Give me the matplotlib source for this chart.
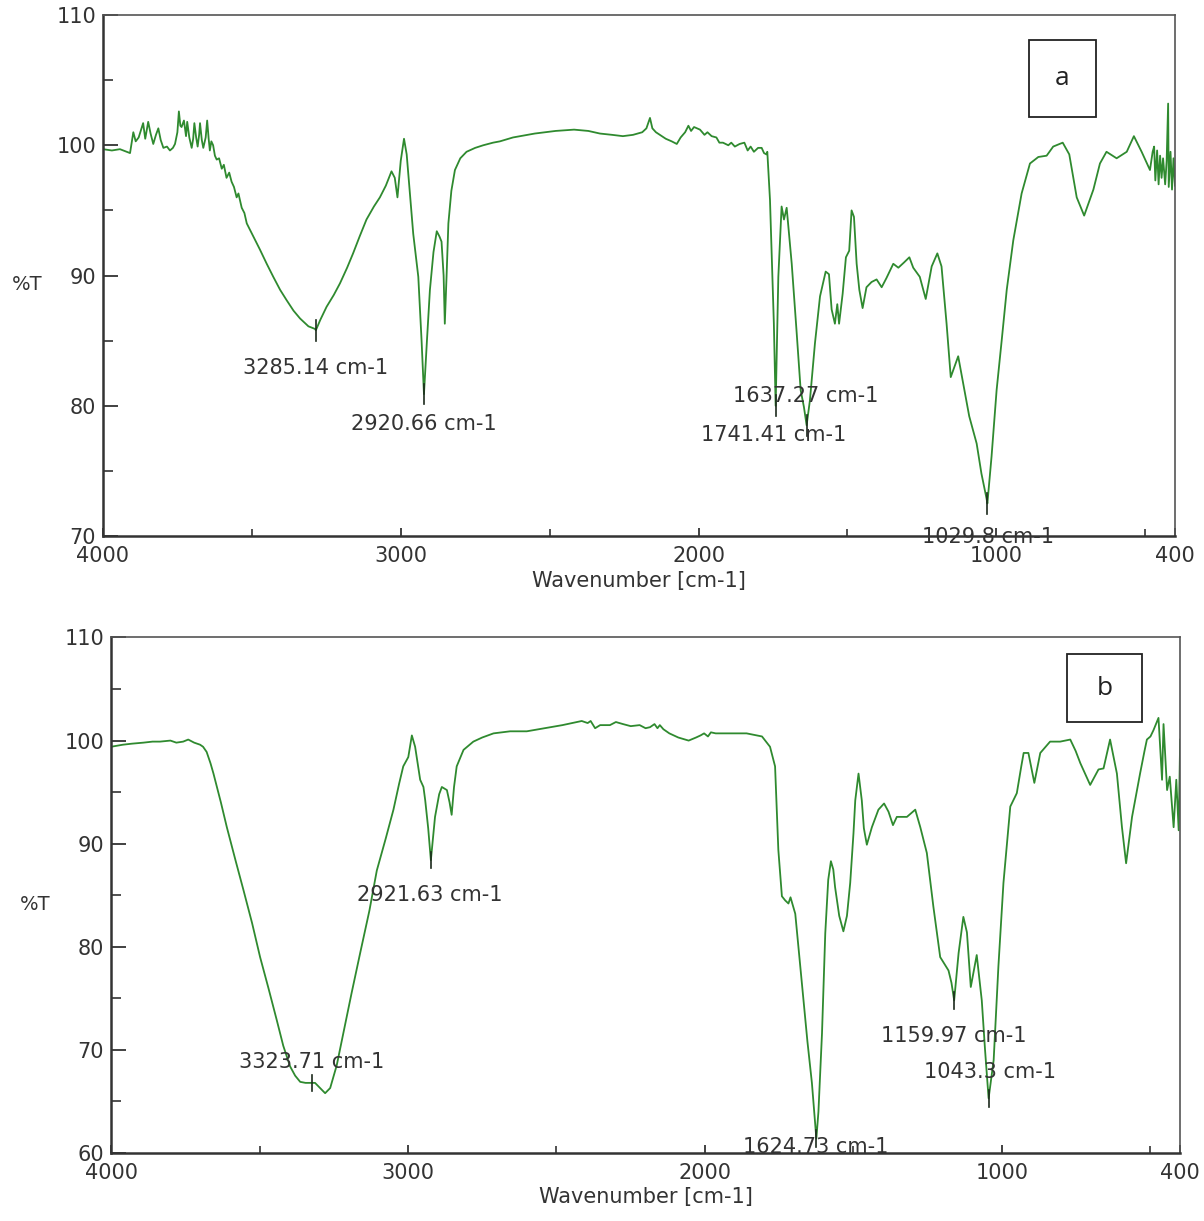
import numpy as np
import matplotlib.pyplot as plt
from matplotlib.patches import Rectangle
from matplotlib.ticker import MultipleLocator, FixedLocator

# ---- spectrum a ----
wn_a = [4000, 3970, 3943, 3920, 3909, 3898, 3890, 3880, 3865, 3858, 3848, 3840, 3831, 3822,
        3814, 3806, 3797, 3785, 3775, 3765, 3758, 3750, 3745, 3740, 3736, 3728, 3721, 3717,
        3710, 3702, 3697, 3693, 3687, 3682, 3677, 3674, 3668, 3663, 3655, 3650, 3645, 3641,
        3636, 3630, 3624, 3618, 3610, 3601, 3594, 3585, 3576, 3568, 3560, 3551, 3545, 3534,
        3525, 3517, 3495, 3473, 3450, 3428, 3405, 3383, 3360, 3338, 3310, 3288, 3285, 3270,
        3249, 3225, 3204, 3180, 3160, 3138, 3115, 3090, 3070, 3050, 3031, 3020, 3011, 3000,
        2989, 2980, 2970, 2958, 2941, 2930, 2922, 2912, 2902, 2890, 2879, 2870, 2863, 2856,
        2852, 2846, 2840, 2830, 2818, 2800, 2779, 2750, 2723, 2690, 2667, 2623, 2550, 2480,
        2418, 2370, 2331, 2290, 2254, 2220, 2189, 2175, 2163, 2155, 2143, 2110, 2090, 2073,
        2060, 2045, 2034, 2025, 2015, 1995, 1980, 1970, 1956, 1940, 1930, 1918, 1900, 1890,
        1878, 1862, 1846, 1835, 1825, 1814, 1800, 1788, 1780, 1772, 1769, 1760, 1747, 1741,
        1732, 1721, 1713, 1704, 1687, 1671, 1657, 1646, 1637, 1626, 1609, 1592, 1573, 1562,
        1553, 1542, 1534, 1528, 1516, 1505, 1494, 1486, 1478, 1469, 1460, 1449, 1436, 1419,
        1402, 1385, 1369, 1346, 1329, 1310, 1292, 1279, 1257, 1237, 1217, 1198, 1184, 1167,
        1153, 1128, 1111, 1091, 1066, 1050, 1033, 1030, 1016, 999, 982, 965, 943, 915, 887,
        859, 831, 809, 777, 755, 730, 705, 674, 652, 630, 596, 562, 538, 512, 484, 475, 470,
        466, 460, 455, 450, 445, 440, 433, 428, 423, 421, 415, 410, 405, 400]
t_a = [99.7, 99.6, 99.7, 99.5, 99.4, 101.0, 100.3, 100.6, 101.7, 100.5, 101.8, 100.9, 100.1, 100.8,
       101.3, 100.4, 99.8, 99.9, 99.6, 99.8, 100.1, 101.0, 102.6, 101.5, 101.4, 101.9, 100.7, 101.8,
       100.6, 99.8, 100.5, 101.7, 100.6, 99.9, 100.8, 101.7, 100.4, 99.8, 100.6, 101.9, 100.5, 99.6,
       100.3, 100.0, 99.2, 98.9, 99.0, 98.2, 98.5, 97.5, 97.9, 97.2, 96.8, 96.0, 96.3, 95.2,
       94.8, 94.0, 93.0, 92.0, 90.9, 89.9, 88.9, 88.1, 87.3, 86.7, 86.1, 85.9, 85.8, 86.6,
       87.6, 88.5, 89.4, 90.6, 91.7, 93.0, 94.3, 95.3, 96.0, 96.9, 98.0, 97.5, 96.0, 98.8,
       100.5, 99.3, 96.5, 93.2, 89.9, 85.0, 80.9, 85.0, 88.9, 91.8, 93.4, 93.0, 92.6, 90.0,
       86.3, 90.0, 94.0, 96.5, 98.1, 99.0, 99.5, 99.8, 100.0, 100.2, 100.3, 100.6, 100.9, 101.1,
       101.2, 101.1, 100.9, 100.8, 100.7, 100.8, 101.0, 101.3, 102.1, 101.3, 101.0, 100.5, 100.3, 100.1,
       100.6, 101.0, 101.5, 101.1, 101.4, 101.2, 100.8, 101.0, 100.7, 100.6, 100.2, 100.2, 100.0, 100.2,
       99.9, 100.1, 100.2, 99.6, 99.9, 99.5, 99.8, 99.8, 99.4, 99.3, 99.5, 95.8, 86.3, 80.0,
       89.9, 95.3, 94.3, 95.2, 90.9, 85.8, 81.2, 79.9, 78.5, 80.4, 84.8, 88.4, 90.3, 90.1,
       87.4, 86.3, 87.8, 86.3, 88.6, 91.4, 91.9, 95.0, 94.5, 90.9, 88.9, 87.5, 89.1, 89.5,
       89.7, 89.1, 89.8, 90.9, 90.6, 91.0, 91.4, 90.6, 89.9, 88.2, 90.7, 91.7, 90.7, 86.3,
       82.2, 83.8, 81.7, 79.2, 77.1, 74.8, 72.9, 72.5, 76.1, 81.2, 85.0, 88.9, 92.7, 96.3, 98.6,
       99.1, 99.2, 99.9, 100.2, 99.3, 96.0, 94.6, 96.6, 98.6, 99.5, 99.0, 99.5, 100.7, 99.5, 98.1, 99.5, 99.9,
       97.3, 99.6, 97.0, 99.2, 97.5, 99.0, 97.0, 98.8, 103.2, 96.8, 99.5, 96.6, 99.0, 96.9]

# ---- spectrum b ----
wn_b = [4000, 3960, 3930, 3891, 3860, 3835, 3800, 3780, 3757, 3740, 3720, 3700, 3690, 3678,
        3665, 3655, 3630, 3610, 3580, 3554, 3525, 3498, 3470, 3442, 3420, 3397, 3380, 3363,
        3345, 3324, 3313, 3296, 3279, 3262, 3240, 3218, 3190, 3161, 3130, 3105, 3075, 3049,
        3030, 3016, 2999, 2987, 2976, 2959, 2948, 2942, 2932, 2923, 2916, 2909, 2895, 2886,
        2869, 2860, 2853, 2845, 2836, 2813, 2780, 2750, 2712, 2656, 2600, 2540, 2480, 2415,
        2395, 2385, 2370, 2353, 2320, 2300, 2276, 2250, 2220, 2200, 2185, 2170, 2160, 2152,
        2140, 2120, 2090, 2055, 2030, 2015, 2003, 1990, 1980, 1964, 1920, 1860, 1808, 1781,
        1764, 1753, 1741, 1730, 1719, 1712, 1704, 1696, 1682, 1668, 1655, 1640, 1625, 1618,
        1606, 1595, 1585, 1576, 1568, 1562, 1548, 1534, 1522, 1511, 1500, 1494, 1483, 1472,
        1465, 1455, 1438, 1416, 1397, 1382, 1367, 1354, 1320, 1292, 1275, 1253, 1231, 1208,
        1180, 1170, 1161, 1146, 1130, 1118, 1105, 1096, 1085, 1068, 1057, 1045, 1028, 1012,
        995, 972, 950, 935, 927, 911, 891, 871, 838, 804, 770, 752, 736, 703, 675, 658, 636,
        613, 596, 582, 562, 535, 520, 512, 500, 490, 473, 461, 456, 444, 435, 422, 413, 405, 400]
t_b = [99.4, 99.6, 99.7, 99.8, 99.9, 99.9, 100.0, 99.8, 99.9, 100.1, 99.8, 99.6, 99.4, 98.9,
       97.8, 96.8, 94.0, 91.6, 88.3, 85.5, 82.3, 79.0, 76.0, 72.9, 70.4, 68.4, 67.5, 66.9,
       66.8, 66.8, 66.8, 66.3, 65.8, 66.3, 68.5, 71.6, 75.5, 79.4, 83.5, 87.4, 90.5, 93.3,
       95.8, 97.5, 98.4, 100.5, 99.4, 96.2, 95.5, 94.2, 91.5, 88.4, 90.5, 92.6, 94.8, 95.5,
       95.2, 94.0, 92.8, 95.5, 97.5, 99.1, 99.9, 100.3, 100.7, 100.9, 100.9, 101.2, 101.5, 101.9,
       101.7, 101.9, 101.2, 101.5, 101.5, 101.8, 101.6, 101.4, 101.5, 101.2, 101.3, 101.6, 101.2, 101.5,
       101.1, 100.7, 100.3, 100.0, 100.3, 100.5, 100.7, 100.4, 100.8, 100.7, 100.7, 100.7, 100.4, 99.4,
       97.5, 89.4, 84.9, 84.5, 84.2, 84.8, 84.0, 83.2, 79.0, 74.8, 70.8, 66.8, 61.4, 64.0,
       71.6, 81.3, 86.5, 88.3, 87.5, 85.8, 83.0, 81.5, 83.0, 86.2, 91.0, 94.2, 96.8, 94.2,
       91.5, 89.9, 91.6, 93.3, 93.9, 93.1, 91.8, 92.6, 92.6, 93.3, 91.6, 89.1, 83.9, 79.0,
       77.7, 76.5, 74.8, 79.4, 82.9, 81.4, 76.1, 77.5, 79.2, 74.8, 70.0, 65.3, 69.0, 78.1,
       86.2, 93.6, 94.9, 97.5, 98.8, 98.8, 95.9, 98.8, 99.9, 99.9, 100.1, 99.0, 97.8, 95.7, 97.2, 97.3, 100.1,
       96.8, 91.6, 88.1, 92.6, 96.8, 99.0, 100.1, 100.4, 101.0, 102.2, 96.2, 101.6, 95.2, 96.5, 91.6, 96.2, 91.3, 100.1]

# peak marks and their labels
peaks_a = [3285.14, 2920.66, 1741.41, 1637.27, 1029.8]
peak_t_a = [85.8, 80.9, 80.0, 78.5, 72.5]
labels_a = ["3285.14 cm-1", "2920.66 cm-1", "1741.41 cm-1", "1637.27 cm-1", "1029.8 cm-1"]
label_pos_a = [(3287, 82.9), (2922, 78.6), (1747, 77.75), (1639, 80.75), (1028, 69.9)]

peaks_b = [3323.71, 2921.63, 1624.73, 1159.97, 1043.3]
peak_t_b = [66.8, 88.4, 61.4, 74.8, 65.3]
labels_b = ["3323.71 cm-1", "2921.63 cm-1", "1624.73 cm-1", "1159.97 cm-1", "1043.3 cm-1"]
label_pos_b = [(3326, 68.8), (2926, 85.0), (1626, 60.6), (1161, 71.3), (1040, 67.9)]

LINE = '#2f8a2f'
TXT = '#333333'
FS = 15

fig = plt.figure(figsize=(12.04, 12.21), dpi=100)
ax_a = fig.add_axes([0.0855, 0.561, 0.8904, 0.4267])
ax_b = fig.add_axes([0.0922, 0.0557, 0.888, 0.4222])


def style(ax, ymin, panel, box):
    ax.set_xlim(4000, 400)
    ax.set_ylim(ymin, 110)
    ax.xaxis.set_major_locator(FixedLocator([4000, 3000, 2000, 1000, 400]))
    ax.xaxis.set_minor_locator(FixedLocator([3500, 2500, 1500, 500]))
    ax.yaxis.set_major_locator(MultipleLocator(10))
    ax.yaxis.set_minor_locator(MultipleLocator(5))
    ax.tick_params(axis='x', which='major', direction='in', length=6, width=1.3,
                   colors='#333333', labelsize=FS, labelcolor=TXT, pad=7)
    ax.tick_params(axis='x', which='minor', direction='in', length=5, width=1.2, colors='#333333')
    ax.tick_params(axis='y', which='major', direction='in', length=11, width=1.3,
                   colors='#333333', labelsize=FS, labelcolor=TXT, pad=5)
    ax.tick_params(axis='y', which='minor', direction='in', length=7, width=1.2, colors='#333333')
    for side in ['left', 'bottom']:
        ax.spines[side].set_linewidth(1.8)
        ax.spines[side].set_color('#333333')
    for side in ['top', 'right']:
        ax.spines[side].set_linewidth(1.2)
        ax.spines[side].set_color('#555555')
    ax.text(0.5, -0.086, "Wavenumber [cm-1]", transform=ax.transAxes, ha='center',
            va='center', fontsize=FS, color=TXT)
    ax.text(-0.071, 0.482, "%T", transform=ax.transAxes, ha='center', va='center',
            fontsize=FS - 1, color=TXT)
    x0, y0, w, h = box
    ax.add_patch(Rectangle((x0, y0), w, h, transform=ax.transAxes, fill=False,
                           edgecolor='#222222', linewidth=1.3))
    ax.text(x0 + w / 2, y0 + h / 2, panel, transform=ax.transAxes, ha='center',
            va='center', fontsize=19, color='#222222', family='Open Sans')


def draw(ax, wn, t, peaks, peak_t, labels, label_pos):
    ax.plot(wn, t, color=LINE, linewidth=1.3)
    for p, pt in zip(peaks, peak_t):
        ax.plot([p, p], [pt - 0.8, pt + 0.8], color='#1c2a1c', linewidth=1.2)
    for lab, (lx, ly) in zip(labels, label_pos):
        ax.text(lx, ly, lab, ha='center', va='center', fontsize=FS, color=TXT)


draw(ax_a, wn_a, t_a, peaks_a, peak_t_a, labels_a, label_pos_a)
style(ax_a, 70, 'a', (0.8638, 0.8042, 0.0625, 0.1478))
draw(ax_b, wn_b, t_b, peaks_b, peak_t_b, labels_b, label_pos_b)
style(ax_b, 60, 'b', (0.8943, 0.836, 0.0702, 0.132))

fig.savefig("out.png", dpi=100, facecolor='white')
